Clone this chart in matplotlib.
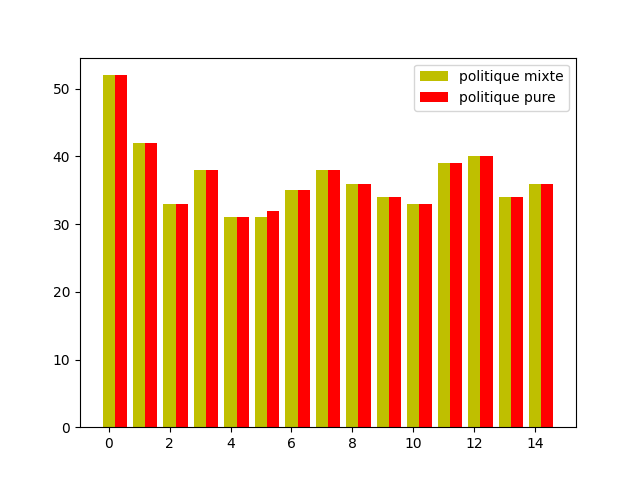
import numpy as np
import matplotlib
matplotlib.use("Agg")
import matplotlib.pyplot as plt

# donnees
instances = np.arange(15)
mixte = [52, 42, 33, 38, 31, 31, 35, 38, 36, 34, 33, 39, 40, 34, 36]
pure = [52, 42, 33, 38, 31, 32, 35, 38, 36, 34, 33, 39, 40, 34, 36]

largeur = 0.4

fig, ax = plt.subplots(figsize=(6.4, 4.8), dpi=100)
ax.bar(instances, mixte, largeur, color='y', label='politique mixte')
ax.bar(instances + largeur, pure, largeur, color='r', label='politique pure')
ax.legend()

fig.savefig("out.png")
